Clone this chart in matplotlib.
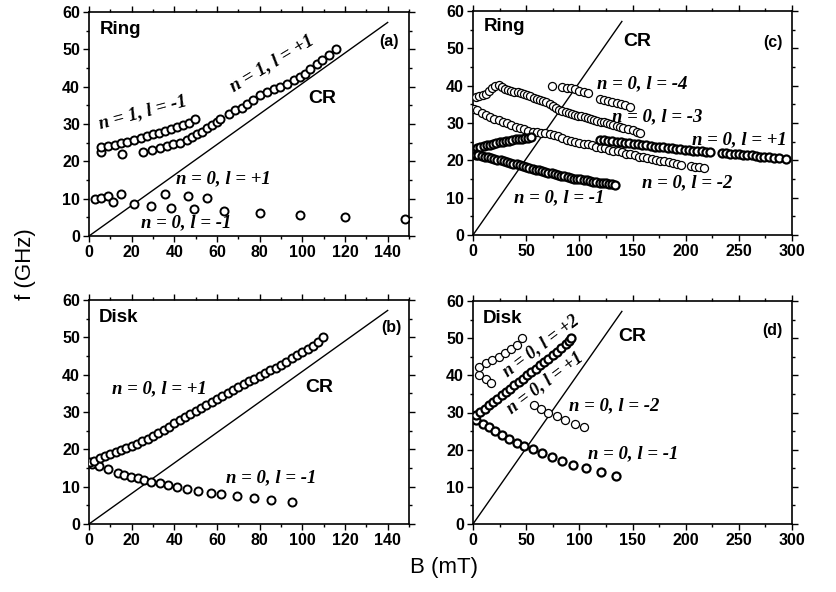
import matplotlib
matplotlib.use("Agg")
import matplotlib.pyplot as plt
from matplotlib.ticker import MultipleLocator

# ---------------- data ----------------
# cyclotron resonance line, same in all panels
cr_b = [0, 140]
cr_f = [0, 57.2]

# (a) Ring, 0-150 mT
a_n1_lm1_b = [5.4, 5.4, 8.8, 12.2, 15.1, 15.5, 17.9, 21.3, 24.5, 27.3, 30.1, 32.9, 35.7, 38.6, 41.4, 44.2, 47.0, 49.9]
a_n1_lm1_f = [22.6, 23.8, 24.1, 24.4, 25.0, 22.0, 25.3, 25.8, 26.2, 26.7, 27.2, 27.7, 28.2, 28.7, 29.2, 29.8, 30.4, 31.4]
a_n1_lp1_b = [25.4, 29.3, 33.2, 36.4, 39.5, 42.6, 45.8, 48.1, 50.5, 52.8, 55.2, 57.5, 59.9, 61.5, 65.4, 68.5,
              71.7, 74.0, 77.1, 80.3, 83.4, 86.5, 89.7, 92.8, 96.0, 99.1, 101.4, 103.8, 107.0, 109.3, 112.4, 116.0]
a_n1_lp1_f = [22.5, 23.0, 23.6, 24.0, 24.6, 24.9, 25.6, 26.5, 27.4, 27.9, 28.8, 29.6, 30.5, 31.4, 32.8, 33.7,
              34.4, 35.4, 36.3, 37.7, 38.6, 39.5, 39.9, 40.8, 41.7, 42.6, 43.5, 44.8, 46.2, 47.1, 48.4, 50.0]
a_n0_lp1_b = [2.8, 5.4, 9.1, 15.1, 35.5, 46.3, 55.2]
a_n0_lp1_f = [9.8, 10.3, 10.7, 11.2, 11.2, 10.7, 10.2]
a_n0_lm1_b = [11.1, 21.3, 29.2, 38.3, 49.2, 63.2, 80.3, 99.1, 120.1, 148.0]
a_n0_lm1_f = [9.1, 8.7, 8.1, 7.6, 7.1, 6.6, 6.1, 5.6, 5.2, 4.6]

# (b) Disk, 0-150 mT
b_lp1_b = [0.5, 2.5, 5, 7.5, 10, 12.5, 15, 17.5, 20, 22.5, 25, 27.5, 30, 32.5, 35, 37.5, 40, 42.5, 45, 47.5,
           50, 52.5, 55, 57.5, 60, 62.5, 65, 67.5, 70, 72.5, 75, 77.5, 80, 82.5, 85, 87.5, 90, 92.5, 95, 97.5,
           100, 102.5, 105, 107.5, 109.5]
b_lp1_f = [16.5, 17.0, 17.6, 18.1, 18.7, 19.2, 19.8, 20.3, 20.9, 21.5, 22.2, 22.9, 23.6, 24.4, 25.3, 26.1,
           27.0, 27.8, 28.6, 29.5, 30.3, 31.1, 32.0, 32.8, 33.6, 34.4, 35.2, 35.9, 36.7, 37.4, 38.2, 38.9,
           39.6, 40.4, 41.2, 41.9, 42.7, 43.5, 44.4, 45.2, 46.0, 46.8, 47.8, 48.8, 50.0]
b_lm1_b = [1.5, 4.9, 8.8, 13.5, 16.6, 19.8, 22.9, 25.7, 29.2, 33.1, 37.0, 41.3, 46.1, 51.1, 57.4, 62.1, 69.5,
           77.3, 85.1, 95.2]
b_lm1_f = [16.2, 15.5, 14.6, 13.7, 13.2, 12.7, 12.3, 11.8, 11.3, 10.9, 10.4, 10.0, 9.4, 8.9, 8.4, 8.0, 7.5,
           7.0, 6.4, 5.9]

# (c) Ring, 0-300 mT
c_lm1_b = [1, 3, 5, 8, 11, 14, 17, 20, 23, 26, 29, 32, 35, 38, 41, 44, 47, 50, 53, 56, 59, 62, 65, 68, 71,
           74, 77, 80, 83, 86, 89, 92, 95, 98, 101, 104, 107, 110, 113, 116, 119, 122, 125, 128, 131, 134]
c_lm1_f = [21.6, 21.5, 21.3, 21.1, 21.0, 20.8, 20.6, 20.4, 20.2, 20.0, 19.8, 19.6, 19.4, 19.1, 18.9, 18.7,
           18.4, 18.2, 18.0, 17.7, 17.5, 17.3, 17.1, 16.9, 16.7, 16.5, 16.3, 16.1, 15.9, 15.7, 15.5, 15.3,
           15.1, 15.0, 14.9, 14.7, 14.6, 14.4, 14.3, 14.2, 14.0, 13.9, 13.8, 13.7, 13.6, 13.4]
c_lp1a_b = [2, 4, 7, 10, 13, 16, 19, 22, 25, 28, 31, 34, 37, 40, 43, 46, 49, 52, 55]
c_lp1a_f = [22.8, 23.2, 23.5, 23.8, 24.0, 24.2, 24.4, 24.6, 24.8, 24.9, 25.1, 25.3, 25.4, 25.6, 25.7, 25.8,
            26.0, 26.1, 26.2]
c_lp1b_b = [119, 123, 127, 131, 135, 139, 143, 147, 151, 155, 159, 163, 167, 171, 175, 179, 183, 187, 191,
            195, 199, 203, 207, 211, 215, 219, 223, 234, 238, 242, 246, 250, 254, 258, 262, 266, 270, 274,
            278, 283, 288, 294]
c_lp1b_f = [25.5, 25.4, 25.3, 25.1, 25.0, 24.8, 24.7, 24.6, 24.4, 24.3, 24.1, 24.0, 23.9, 23.7, 23.6, 23.5,
            23.4, 23.2, 23.1, 23.0, 22.9, 22.8, 22.6, 22.5, 22.4, 22.3, 22.2, 22.0, 21.9, 21.8, 21.7, 21.6,
            21.5, 21.4, 21.3, 21.2, 21.0, 20.9, 20.8, 20.7, 20.5, 20.4]
c_lm2_b = [1, 4, 8, 12, 16, 20, 24, 28, 32, 36, 40, 44, 48, 52, 56, 60, 64, 68, 72, 76, 80, 84, 88, 92, 96,
           100, 104, 108, 112, 116, 120, 124, 128, 132, 136, 140, 144, 148, 152, 156, 160, 164, 168, 172,
           176, 180, 184, 188, 192, 196, 205, 209, 213, 217]
c_lm2_f = [33.8, 33.4, 32.8, 32.1, 31.6, 31.1, 30.8, 30.3, 29.9, 29.4, 29.0, 28.6, 28.3, 27.9, 27.7, 27.5,
           27.4, 27.2, 27.0, 26.8, 26.4, 25.9, 25.5, 25.2, 24.9, 24.7, 24.5, 24.3, 24.0, 23.7, 23.4, 23.2,
           22.9, 22.6, 22.4, 22.1, 21.8, 21.6, 21.3, 21.0, 20.8, 20.6, 20.4, 20.1, 19.9, 19.7, 19.5, 19.3,
           19.1, 18.8, 18.5, 18.3, 18.1, 17.9]
c_lm3_b = [3, 6, 9, 12, 15, 18, 21, 24, 27, 30, 33, 36, 39, 42, 45, 48, 51, 54, 57, 60, 63, 66, 69, 72, 75,
           78, 81, 84, 87, 90, 93, 96, 99, 102, 105, 108, 111, 114, 117, 120, 123, 126, 129, 132, 135, 138,
           141, 146, 150, 154, 157]
c_lm3_f = [36.9, 37.2, 37.5, 37.9, 38.5, 39.5, 40.0, 40.1, 39.6, 39.2, 38.8, 38.6, 38.4, 38.2, 38.0, 37.7,
           37.4, 37.1, 36.8, 36.5, 36.2, 35.9, 35.6, 35.2, 34.6, 33.9, 33.5, 33.2, 32.9, 32.7, 32.5, 32.2,
           32.0, 31.8, 31.6, 31.3, 31.1, 30.9, 30.6, 30.4, 30.2, 30.0, 29.7, 29.4, 29.1, 28.9, 28.7, 28.3,
           28.0, 27.6, 27.3]
c_lm4_b = [74, 84, 88, 92, 96, 100, 104, 108, 119, 123, 127, 131, 135, 139, 143, 148]
c_lm4_f = [40.0, 39.7, 39.5, 39.3, 39.0, 38.7, 38.4, 38.0, 36.5, 36.1, 35.8, 35.5, 35.3, 35.0, 34.7, 34.4]

# (d) Disk, 0-300 mT
d_lm1_b = [2.5, 9.1, 15.4, 21.0, 27.0, 33.9, 41.0, 48.3, 56.1, 64.9, 74.6, 84.0, 94.0, 106.0, 120.0, 134.5]
d_lm1_f = [28.1, 27.0, 26.1, 25.1, 24.0, 23.0, 21.9, 21.0, 20.1, 19.0, 18.0, 17.0, 16.0, 15.0, 13.9, 12.9]
d_lp1_b = [3, 7, 11, 15, 19, 23, 27, 31, 35, 39, 43, 47, 51, 55, 59, 63, 67, 71, 75, 79, 83, 87, 90, 92]
d_lp1_f = [29.3, 30.1, 31.0, 31.9, 32.8, 33.7, 34.6, 35.5, 36.4, 37.3, 38.2, 39.1, 40.0, 40.9, 41.8, 42.7,
           43.6, 44.5, 45.5, 46.4, 47.4, 48.3, 49.2, 50.0]
d_lp2_b = [6, 12, 17, 6, 12, 18, 24, 30, 36, 41, 46]
d_lp2_f = [40.0, 39.0, 38.0, 42.2, 43.2, 44.1, 45.0, 46.0, 47.1, 48.2, 50.0]
d_lm2_b = [57.4, 63.6, 70.8, 78.7, 86.5, 95.9, 104.7]
d_lm2_f = [32.0, 31.0, 30.0, 29.0, 28.0, 27.0, 26.0]

# ---------------- figure ----------------
sans = ['Liberation Sans', 'DejaVu Sans']
serif = ['Liberation Serif', 'DejaVu Serif']
plt.rcParams['font.family'] = sans

fig = plt.figure(figsize=(8.36, 5.92), dpi=100)
W, H = 836, 592


def add_panel(left, right, top, bottom):
    return fig.add_axes([left / W, 1 - bottom / H, (right - left) / W, (bottom - top) / H])


def style(ax, xmax, xmaj, xmin):
    ax.set_xlim(0, xmax)
    ax.set_ylim(0, 60)
    ax.xaxis.set_major_locator(MultipleLocator(xmaj))
    ax.xaxis.set_minor_locator(MultipleLocator(xmin))
    ax.yaxis.set_major_locator(MultipleLocator(10))
    ax.yaxis.set_minor_locator(MultipleLocator(5))
    ax.tick_params(which='both', direction='out', top=True, right=True, width=1.0)
    ax.tick_params(which='major', length=4.5, labelsize=11.5, pad=2)
    ax.tick_params(which='minor', length=2.5)
    for sp in ax.spines.values():
        sp.set_linewidth(1.2)
    for lab in ax.get_xticklabels() + ax.get_yticklabels():
        lab.set_fontweight('bold')
    ax.plot(cr_b, cr_f, color='black', lw=1.0, zorder=1)


def circles(ax, x, y, mew=1.4):
    ax.plot(x, y, 'o', ls='none', ms=5.8, mfc='white', mec='black', mew=mew, zorder=3)


def label(ax, x, y, s, rot=0, size=13.5):
    ax.text(x, y, s, transform=ax.transAxes, ha='center', va='center', rotation=rot,
            rotation_mode='anchor', family=serif, style='italic', weight='bold', fontsize=size)


def tag(ax, x, y, s, size=13.5, ha='center'):
    ax.text(x, y, s, transform=ax.transAxes, ha=ha, va='center', fontsize=size, weight='bold')


ax_a = add_panel(89, 409, 12, 236)
ax_b = add_panel(89, 409, 300, 524)
ax_c = add_panel(473, 792, 11, 235)
ax_d = add_panel(473, 792, 301, 524)

style(ax_a, 150, 20, 10)
style(ax_b, 150, 20, 10)
style(ax_c, 300, 50, 25)
style(ax_d, 300, 50, 25)

# (a)
circles(ax_a, a_n1_lm1_b, a_n1_lm1_f)
circles(ax_a, a_n1_lp1_b, a_n1_lp1_f)
circles(ax_a, a_n0_lp1_b, a_n0_lp1_f)
circles(ax_a, a_n0_lm1_b, a_n0_lm1_f)
tag(ax_a, 0.034, 0.924, 'Ring', ha='left')
tag(ax_a, 0.937, 0.867, '(a)', size=11.5)
tag(ax_a, 0.728, 0.614, 'CR', size=14)
label(ax_a, 0.169, 0.553, 'n = 1, l = -1', rot=15)
label(ax_a, 0.572, 0.772, 'n = 1, l = +1', rot=31)
label(ax_a, 0.419, 0.254, 'n = 0, l = +1')
label(ax_a, 0.305, 0.058, 'n = 0, l = -1')

# (b)
circles(ax_b, b_lm1_b, b_lm1_f)
circles(ax_b, b_lp1_b, b_lp1_f)
tag(ax_b, 0.031, 0.92, 'Disk', ha='left')
tag(ax_b, 0.944, 0.875, '(b)', size=11.5)
tag(ax_b, 0.721, 0.61, 'CR', size=14)
label(ax_b, 0.221, 0.603, 'n = 0, l = +1')
label(ax_b, 0.57, 0.208, 'n = 0, l = -1')

# (c)
circles(ax_c, c_lm3_b, c_lm3_f, mew=0.9)
circles(ax_c, c_lm4_b, c_lm4_f, mew=0.9)
circles(ax_c, c_lm2_b, c_lm2_f, mew=0.9)
circles(ax_c, c_lp1a_b, c_lp1a_f, mew=1.6)
circles(ax_c, c_lp1b_b, c_lp1b_f, mew=1.6)
circles(ax_c, c_lm1_b, c_lm1_f, mew=1.6)
tag(ax_c, 0.034, 0.929, 'Ring', ha='left')
tag(ax_c, 0.94, 0.86, '(c)', size=11.5)
tag(ax_c, 0.514, 0.862, 'CR', size=14)
label(ax_c, 0.53, 0.674, 'n = 0, l = -4')
label(ax_c, 0.577, 0.528, 'n = 0, l = -3')
label(ax_c, 0.834, 0.424, 'n = 0, l = +1')
label(ax_c, 0.671, 0.235, 'n = 0, l = -2')
label(ax_c, 0.27, 0.168, 'n = 0, l = -1')

# (d)
circles(ax_d, d_lp2_b, d_lp2_f, mew=0.9)
circles(ax_d, d_lm2_b, d_lm2_f, mew=0.9)
circles(ax_d, d_lm1_b, d_lm1_f, mew=1.6)
circles(ax_d, d_lp1_b, d_lp1_f, mew=1.6)
tag(ax_d, 0.031, 0.92, 'Disk', ha='left')
tag(ax_d, 0.94, 0.867, '(d)', size=11.5)
tag(ax_d, 0.498, 0.84, 'CR', size=14)
label(ax_d, 0.212, 0.797, 'n = 0, l = +2', rot=37, size=13)
label(ax_d, 0.226, 0.632, 'n = 0, l = +1', rot=37, size=13)
label(ax_d, 0.442, 0.531, 'n = 0, l = -2')
label(ax_d, 0.502, 0.314, 'n = 0, l = -1')

fig.text(26 / W, 1 - 264 / H, 'f (GHz)', rotation=90, ha='center', va='center', fontsize=16)
fig.text(444 / W, 1 - 567 / H, 'B (mT)', ha='center', va='center', fontsize=16)

fig.savefig('out.png', dpi=100)
